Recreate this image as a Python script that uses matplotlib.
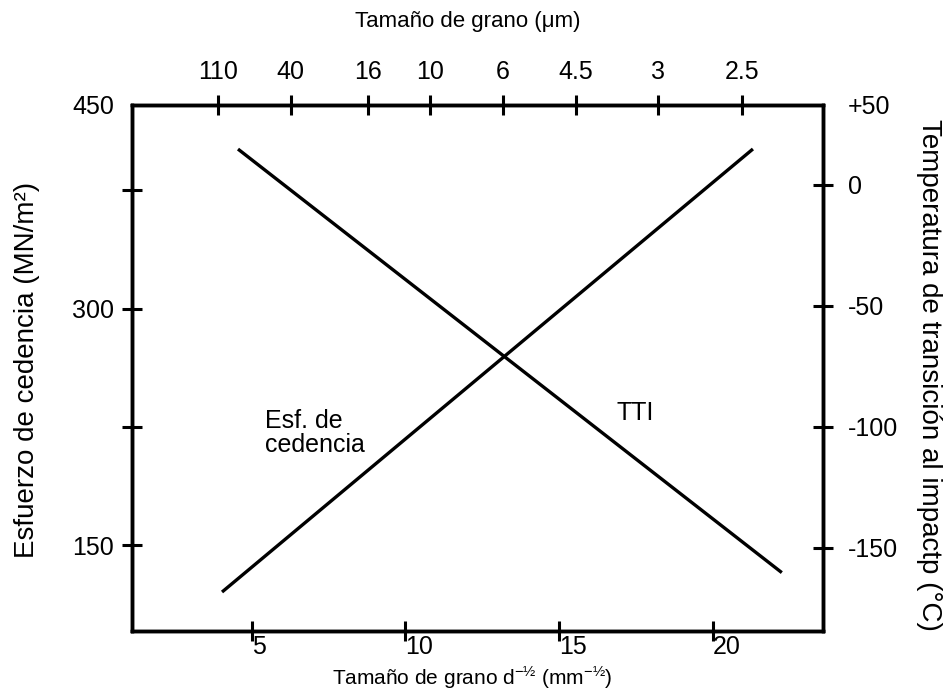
import numpy as np
import matplotlib.pyplot as plt

plt.rcParams['font.family'] = ['Liberation Sans', 'DejaVu Sans']
plt.rcParams['mathtext.fontset'] = 'custom'
plt.rcParams['mathtext.rm'] = 'Liberation Sans'

# start / end of each line, x in d^-1/2 (mm^-1/2)
yield_x = [4.03, 21.31]
yield_stress = [120.3, 401.2]   # MN/m2, left axis
tti_x = [4.55, 22.25]
tti_temp = [14.7, -160.2]       # degC, right axis

bottom_ticks = [5, 10, 15, 20]
top_ticks = [3.90, 6.27, 8.78, 10.80, 13.17, 15.55, 18.22, 20.95]
top_labels = ['110', '40', '16', '10', '6', '4.5', '3', '2.5']
left_ticks = [150, 225, 300, 375, 429.1]
left_labels = ['150', '', '300', '', '450']
right_ticks = [-150, -100, -50, 0, 32.9]
right_labels = ['-150', '-100', '-50', '0', '+50']

fig = plt.figure(figsize=(9.43, 7.0), dpi=100)
ax = fig.add_axes([0.1403, 0.0986, 0.7321, 0.7514])
ax.set_xlim(1.11, 23.58)
ax.set_ylim(95.6, 429.1)

ax2 = ax.twinx()
ax2.set_ylim(-184.3, 32.9)
ax3 = ax.twiny()
ax3.set_xlim(ax.get_xlim())

ax.plot(yield_x, yield_stress, color='black', lw=2.4, solid_capstyle='butt')
ax2.plot(tti_x, tti_temp, color='black', lw=2.4, solid_capstyle='butt')

tick_kw = dict(direction='inout', length=14, width=2.2, colors='black', labelsize=18)

ax.set_xticks(bottom_ticks)
ax.set_xticklabels([str(t) for t in bottom_ticks])
ax.tick_params(axis='x', bottom=True, top=False, pad=-4, **tick_kw)
for lbl in ax.get_xticklabels():
    lbl.set_horizontalalignment('left')

ax.set_yticks(left_ticks)
ax.set_yticklabels(left_labels)
ax.tick_params(axis='y', left=True, right=False, pad=6, **tick_kw)
ax.yaxis.get_major_ticks()[-1].tick1line.set_visible(False)

ax2.set_yticks(right_ticks)
ax2.set_yticklabels(right_labels)
ax2.tick_params(axis='y', left=False, right=True, pad=11, **tick_kw)
ax2.yaxis.get_major_ticks()[-1].tick2line.set_visible(False)

ax3.set_xticks(top_ticks)
ax3.set_xticklabels(top_labels)
ax3.tick_params(axis='x', top=True, bottom=False, pad=8, **tick_kw)

for a in (ax, ax2, ax3):
    for s in a.spines.values():
        s.set_linewidth(2.4)

ax.text(5.43, 236.5, 'Esf. de\ncedencia', fontsize=18, ha='left', va='top',
        linespacing=1.0)
ax.text(16.88, 241.5, 'TTI', fontsize=18, ha='left', va='top')

fig.text(468 / 943, 1 - 22 / 700, 'Tamaño de grano (μm)', fontsize=16,
         ha='center', va='center')
fig.text(472 / 943, 1 - 678 / 700,
         r'Tamaño de grano d$^{\mathregular{-½}}$ (mm$^{\mathregular{-½}}$)',
         fontsize=15, ha='center', va='center')
fig.text(27 / 943, 1 - 370 / 700, 'Esfuerzo de cedencia (MN/m²)', fontsize=20,
         rotation=90, ha='center', va='center')
fig.text(929 / 943, 1 - 375 / 700, 'Temperatura de transición al impactp (°C)',
         fontsize=20, rotation=-90, ha='center', va='center')

fig.savefig('out.png', dpi=100)
